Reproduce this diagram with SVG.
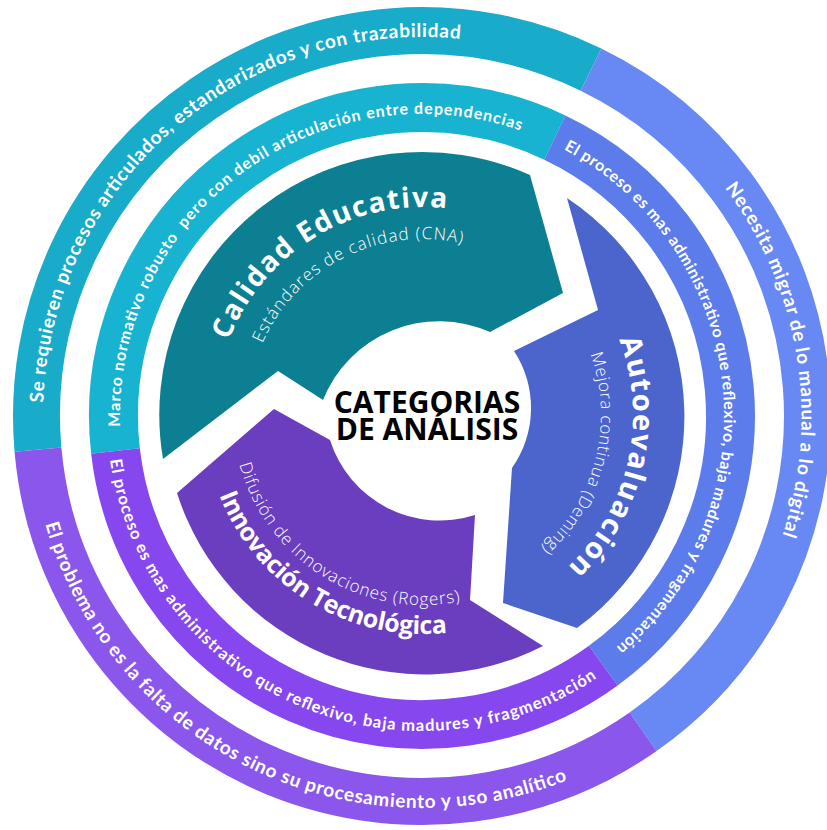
<svg xmlns="http://www.w3.org/2000/svg" width="827" height="830" viewBox="0 0 827 830">
  <style>
    .ring { fill: none; stroke-linecap: butt; }
    .rt { font-family: Lato, "Open Sans", sans-serif; font-weight: 700; fill: #ffffff; }
    .title { font-family: "Open Sans", Lato, sans-serif; font-weight: 700; fill: #ffffff; }
    .sub { font-family: "Open Sans", Lato, sans-serif; font-weight: 300; fill: #ffffff; }
    .center { font-family: "Open Sans", "Noto Sans", sans-serif; font-weight: 700; fill: #000000; }
  </style>
  <defs>
    <!-- text baselines, outer ring -->
    <path id="p-out-cyan" d="M43.23,402.77 A379,379 0 0 1 461.62,39.08"/>
    <path id="p-out-blue" d="M724.68,187.91 A379,379 0 0 1 780.40,541.24"/>
    <path id="p-out-purple" d="M45.19,524.05 A392,392 0 0 0 568.85,779.45"/>
    <!-- text baselines, middle ring -->
    <path id="p-mid-cyan" d="M120.18,426.54 A302,302 0 0 1 520.32,130.45"/>
    <path id="p-mid-blue" d="M563.78,149.35 A302,302 0 0 1 616.12,647.34"/>
    <path id="p-mid-purple" d="M110.06,459.84 A315,315 0 0 0 598.15,677.15"/>
    <!-- text baselines, inner arrows -->
    <path id="p-cal" d="M228.82,340.46 A208,208 0 0 1 446.55,208.34"/>
    <path id="p-cal-sub" d="M262.22,343.41 A176,176 0 0 1 462.59,243.51"/>
    <path id="p-auto" d="M619.05,339.74 A210,210 0 0 1 567.55,567.33"/>
    <path id="p-auto-sub" d="M590.27,354.12 A178,178 0 0 1 540.95,548.31"/>
    <path id="p-inn" d="M219.24,495.26 A219,219 0 0 0 447.79,632.59"/>
    <path id="p-inn-sub" d="M239.47,464.18 A190,190 0 0 0 460.23,601.32"/>
  </defs>

  <rect width="827" height="830" fill="#ffffff"/>

  <!-- outer ring -->
  <g id="outer-ring">
    <path class="ring" stroke="#18abca" stroke-width="47" d="M37.97,449.60 A385.5,385.5 0 0 1 590.99,69.52"/>
    <path class="ring" stroke="#6889f3" stroke-width="47" d="M590.99,69.52 A385.5,385.5 0 0 1 643.11,731.78"/>
    <path class="ring" stroke="#8a56ec" stroke-width="47" d="M643.11,731.78 A385.5,385.5 0 0 1 37.97,449.60"/>
    <text class="rt" font-size="19"><textPath href="#p-out-cyan" textLength="620">Se requieren procesos articulados, estandarizados y con trazabilidad</textPath></text>
    <text class="rt" font-size="19"><textPath href="#p-out-blue" textLength="366">Necesita migrar de lo manual a lo digital</textPath></text>
    <text class="rt" font-size="19"><textPath href="#p-out-purple" textLength="655">El problema no es la falta de datos sino su procesamiento y uso analítico</textPath></text>
  </g>

  <!-- middle ring -->
  <g id="middle-ring">
    <path class="ring" stroke="#17b3d1" stroke-width="49" d="M115.48,450.92 A308.5,308.5 0 0 1 554.81,137.55"/>
    <path class="ring" stroke="#5b7cea" stroke-width="49" d="M554.81,137.55 A308.5,308.5 0 0 1 603.33,665.58"/>
    <path class="ring" stroke="#8648ee" stroke-width="49" d="M603.33,665.58 A308.5,308.5 0 0 1 115.48,450.92"/>
    <text class="rt" font-size="16"><textPath href="#p-mid-cyan" textLength="585" xml:space="preserve">Marco normativo robusto  pero con debil articulación entre dependencias</textPath></text>
    <text class="rt" font-size="16"><textPath href="#p-mid-blue" textLength="590">El proceso es mas administrativo que reflexivo, baja madures y fragmentación</textPath></text>
    <text class="rt" font-size="16.5"><textPath href="#p-mid-purple" textLength="636">El proceso es mas administrativo que reflexivo, baja madures y fragmentación</textPath></text>
  </g>

  <!-- inner cycle arrows -->
  <g id="calidad-educativa">
    <path fill="#0d7f92" d="M163,459 A263,263 0 0 1 530,175 L563,293 L490,332 A125,125 0 0 0 323,400 L278,371 Z"/>
    <text class="title" font-size="28"><textPath href="#p-cal" textLength="274">Calidad Educativa</textPath></text>
    <text class="sub" font-size="17"><textPath href="#p-cal-sub" textLength="242">Estándares de calidad (CNA)</textPath></text>
  </g>
  <g id="autoevaluacion">
    <path fill="#4b65cd" d="M567,198 A262,262 0 0 1 577,628 L503,603 L512,468 A104,104 0 0 0 514,351 L598,310 Z"/>
    <text class="title" font-size="29"><textPath href="#p-auto" textLength="247">Autoevaluación</textPath></text>
    <text class="sub" font-size="17"><textPath href="#p-auto-sub" textLength="212">Mejora continua (Deming)</textPath></text>
  </g>
  <g id="innovacion-tecnologica">
    <path fill="#6a3ebf" d="M543,646 A260,260 0 0 1 177,493 L274,409 L330,440 A115,115 0 0 0 475,515 L470,600 Z"/>
    <text class="title" font-size="25"><textPath href="#p-inn" textLength="286">Innovación Tecnológica</textPath></text>
    <text class="sub" font-size="17"><textPath href="#p-inn-sub" textLength="286">Difusión de Innovaciones (Rogers)</textPath></text>
  </g>

  <!-- centre label -->
  <g id="categorias">
    <text class="center" font-size="30" text-anchor="middle" x="427" y="413">CATEGORIAS</text>
    <text class="center" font-size="30" text-anchor="middle" x="427" y="440">DE ANÁLISIS</text>
  </g>
</svg>
